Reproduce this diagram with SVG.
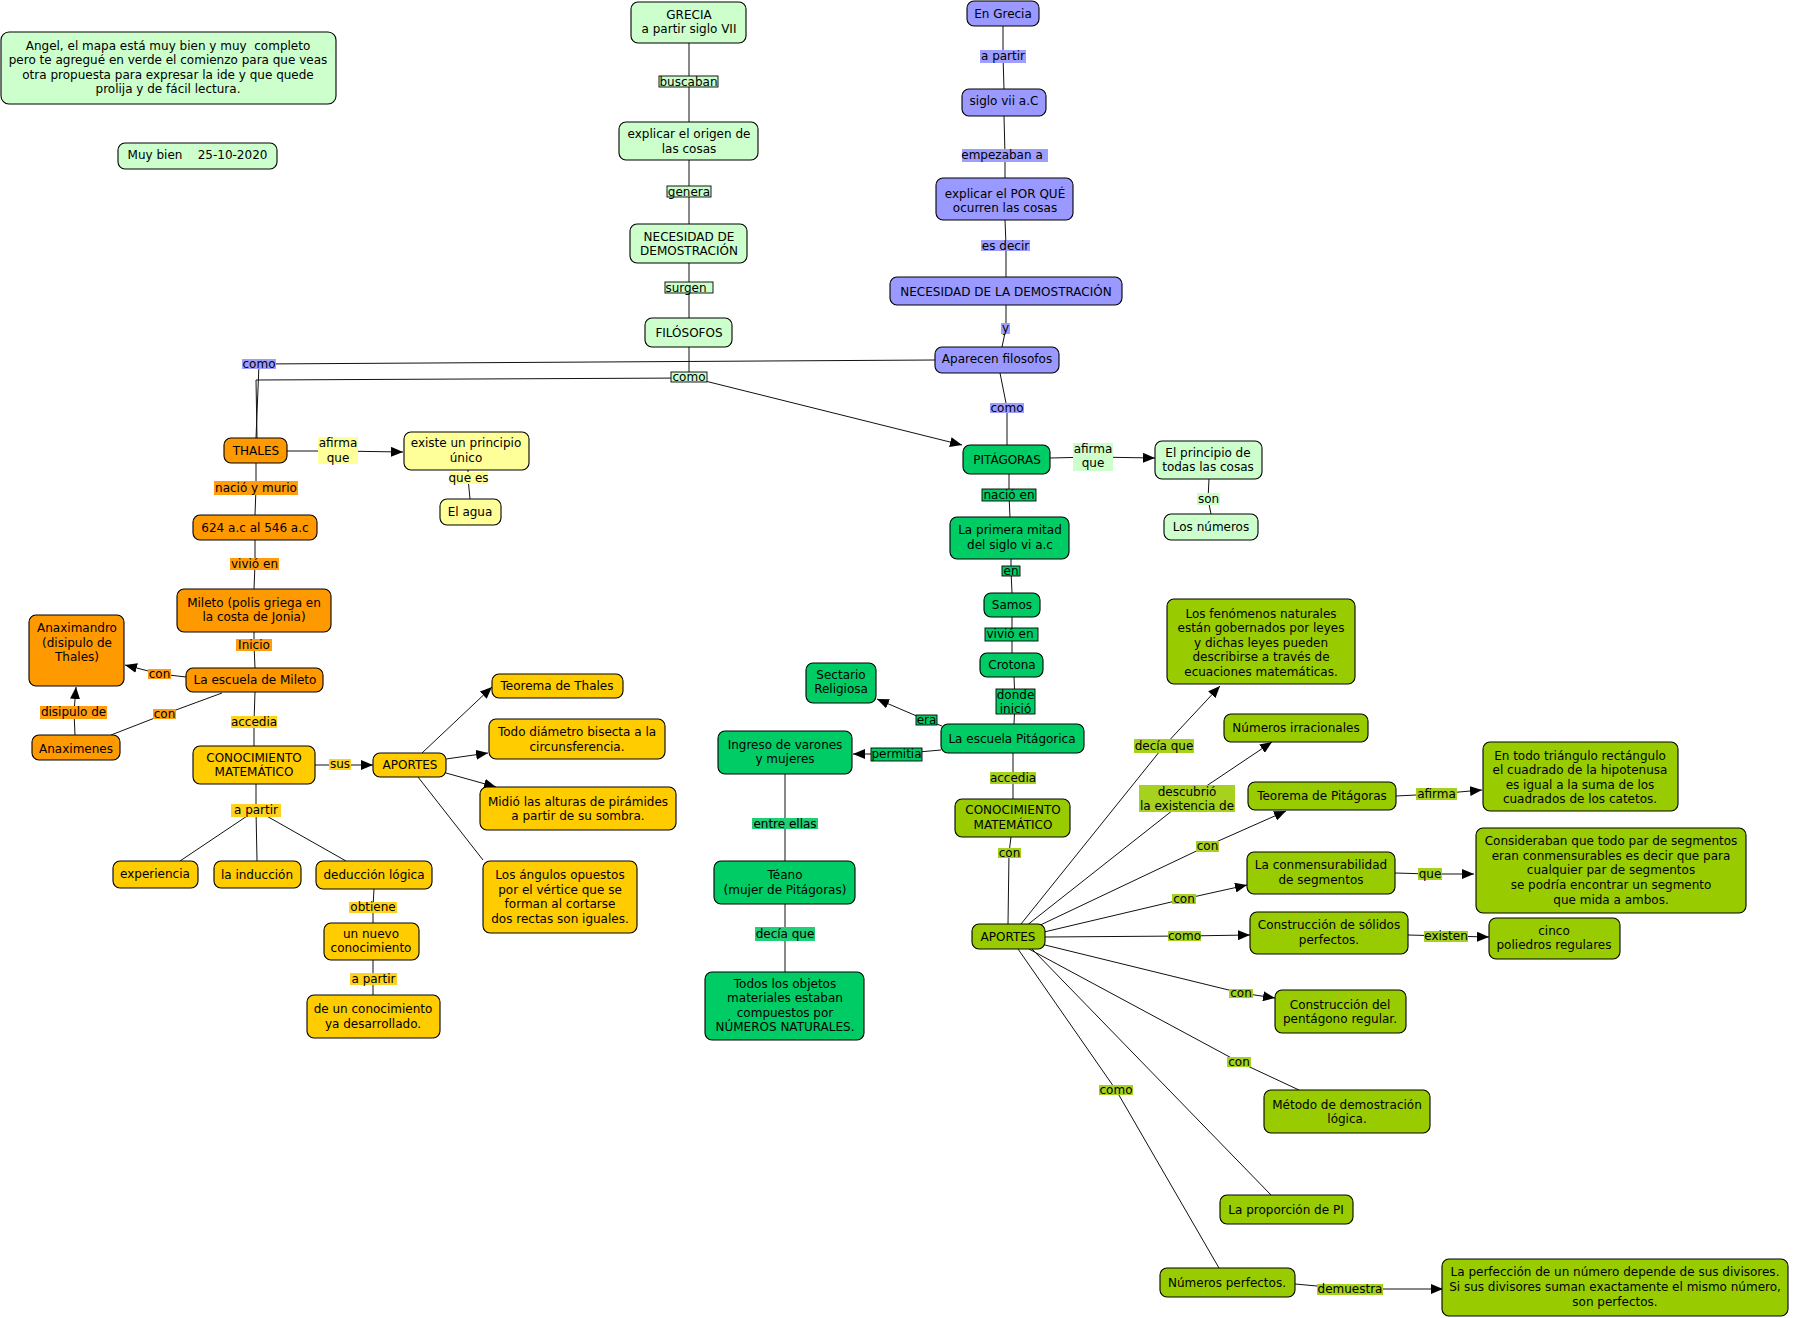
<svg xmlns="http://www.w3.org/2000/svg" width="1793" height="1318" viewBox="0 0 1793 1318">
<style>
text{font-family:"DejaVu Sans",Verdana,sans-serif;font-size:12px;fill:#000;text-anchor:middle}
.n{stroke:#000;stroke-width:1.1}
.lg{fill:#ccffcc}.pu{fill:#9999ff}.or{fill:#ff9900}.ye{fill:#ffff99}.go{fill:#ffcc00}.gr{fill:#00cc66}.yg{fill:#99cc00}
.c{fill:none;stroke:#111;stroke-width:1}
.a{marker-end:url(#ar)}
.lb{stroke:#000;stroke-width:0.9}
.llg{fill:#ccffcc}.lpu{fill:#9e9eff}.lye{fill:#ffff99}.lor{fill:#ff9d0f}.lgo{fill:#ffd21f}.lgr{fill:#00cc66}.lgr2{fill:#22cf77}.lyg{fill:#a6d21f}
</style>
<defs>
<marker id="ar" markerUnits="userSpaceOnUse" markerWidth="12" markerHeight="10" refX="12" refY="5" orient="auto">
<path d="M0,0 L12,5 L0,10 z" fill="#000"/>
</marker>
</defs>
<rect x="0" y="0" width="1793" height="1318" fill="#fff"/>
<g id="connectors">
<polyline class="c" points="689,43 689,81 689,122"/>
<polyline class="c" points="689,160 689,191 689,224"/>
<polyline class="c" points="689,263 689,287 689,318"/>
<polyline class="c" points="689,347 689,377"/>
<polyline class="c" points="689,378 256,380 257,438"/>
<polyline class="c a" points="689,377 962,445"/>
<polyline class="c" points="1003,26 1003,56 1004,89"/>
<polyline class="c" points="1004,116 1005,155 1005,178"/>
<polyline class="c" points="1005,220 1006,245 1006,277"/>
<polyline class="c" points="1006,305 1006,328 1002,347"/>
<polyline class="c" points="1000,373 1007,408 1007,445"/>
<polyline class="c" points="935,360 259,364 256,438"/>
<polyline class="c a" points="287,451 338,451 403,452"/>
<polyline class="c" points="468,470 468,478 470,499"/>
<polyline class="c" points="256,463 256,488 255,515"/>
<polyline class="c" points="255,540 255,564 254,589"/>
<polyline class="c" points="254,632 254,645 255,668"/>
<polyline class="c a" points="186,677 160,674 125,665"/>
<polyline class="c" points="222,693 165,714 111,735"/>
<polyline class="c a" points="75,735 74,712 76,687"/>
<polyline class="c" points="255,692 254,722 254,746"/>
<polyline class="c a" points="315,765 340,765 373,765"/>
<polyline class="c" points="256,784 256,810"/>
<polyline class="c" points="256,810 180,861"/>
<polyline class="c" points="256,810 257,861"/>
<polyline class="c" points="256,810 346,861"/>
<polyline class="c" points="374,889 373,907 373,923"/>
<polyline class="c" points="373,960 373,979 373,995"/>
<polyline class="c a" points="422,753 492,687"/>
<polyline class="c a" points="446,759 488,753"/>
<polyline class="c a" points="446,773 496,787"/>
<polyline class="c" points="418,777 483,860"/>
<polyline class="c a" points="1050,458 1093,457 1155,458"/>
<polyline class="c" points="1209,479 1208,499 1211,514"/>
<polyline class="c" points="1009,474 1009,495 1010,517"/>
<polyline class="c" points="1011,559 1011,571 1012,593"/>
<polyline class="c" points="1012,617 1012,634 1012,653"/>
<polyline class="c" points="1014,677 1015,701 1014,724"/>
<polyline class="c a" points="942,726 926,720 877,699"/>
<polyline class="c a" points="941,750 896,754 853,754"/>
<polyline class="c" points="1013,753 1013,778 1013,799"/>
<polyline class="c" points="1011,837 1009,853 1008,924"/>
<polyline class="c" points="785,774 785,823 785,861"/>
<polyline class="c" points="785,904 785,934 785,972"/>
<polyline class="c a" points="1021,924 1164,746 1220,686"/>
<polyline class="c a" points="1026,926 1187,799 1272,742"/>
<polyline class="c a" points="1034,928 1207,846 1286,811"/>
<polyline class="c a" points="1044,932 1184,899 1247,885"/>
<polyline class="c a" points="1045,937 1184,936 1250,935"/>
<polyline class="c a" points="1045,945 1241,993 1275,998"/>
<polyline class="c" points="1029,949 1239,1062 1299,1090"/>
<polyline class="c" points="1032,949 1271,1195"/>
<polyline class="c" points="1018,949 1116,1090 1219,1268"/>
<polyline class="c a" points="1396,796 1436,794 1482,790"/>
<polyline class="c a" points="1395,873 1430,874 1474,874"/>
<polyline class="c a" points="1408,935 1446,936 1489,937"/>
<polyline class="c a" points="1295,1284 1350,1289 1443,1289"/>
</g>
<g id="labels">
<g><rect class="llg lb" x="659" y="76" width="59" height="11"/><text x="688.5" y="86">buscaban</text></g>
<g><rect class="llg lb" x="667" y="186" width="44" height="11"/><text x="689" y="196">genera</text></g>
<g><rect class="llg lb" x="665" y="282" width="48" height="11"/><text x="686" y="292">surgen</text></g>
<g><rect class="llg lb" x="671" y="372" width="36" height="10"/><text x="689" y="381">como</text></g>
<g><rect class="lpu" x="980" y="50" width="46" height="13"/><text x="1003" y="60">a partir</text></g>
<g><rect class="lpu" x="962" y="149" width="86" height="13"/><text x="1002" y="159">empezaban a</text></g>
<g><rect class="lpu" x="981" y="240" width="49" height="11"/><text x="1005.5" y="250">es decir</text></g>
<g><rect class="lpu" x="1001" y="323" width="9" height="11"/><text x="1005.5" y="332">y</text></g>
<g><rect class="lpu" x="990" y="403" width="34" height="10"/><text x="1007" y="412">como</text></g>
<g><rect class="lpu" x="242" y="359" width="34" height="10"/><text x="259" y="368">como</text></g>
<g><rect class="lye" x="318" y="437" width="40" height="27"/><text x="338" y="447">afirma</text><text x="338" y="462">que</text></g>
<g><rect class="lye" x="449" y="472" width="39" height="12"/><text x="468.5" y="482">que es</text></g>
<g><rect class="lor" x="214" y="481" width="84" height="14"/><text x="256" y="492">nació y murio</text></g>
<g><rect class="lor" x="230" y="558" width="49" height="12"/><text x="254.5" y="568">vivió en</text></g>
<g><rect class="lor" x="236" y="639" width="36" height="12"/><text x="254" y="649">Inicio</text></g>
<g><rect class="lor" x="148" y="669" width="23" height="10"/><text x="159.5" y="678">con</text></g>
<g><rect class="lor" x="40" y="706" width="67" height="13"/><text x="73.5" y="716">disipulo de</text></g>
<g><rect class="lor" x="153" y="709" width="23" height="10"/><text x="164.5" y="718">con</text></g>
<g><rect class="lgo" x="231" y="716" width="46" height="12"/><text x="254" y="726">accedia</text></g>
<g><rect class="lgo" x="329" y="759" width="22" height="11"/><text x="340" y="768">sus</text></g>
<g><rect class="lgo" x="231" y="804" width="50" height="13"/><text x="256" y="814">a partir</text></g>
<g><rect class="lgo" x="349" y="902" width="48" height="11"/><text x="373" y="911">obtiene</text></g>
<g><rect class="lgo" x="350" y="973" width="47" height="12"/><text x="373.5" y="983">a partir</text></g>
<g><rect class="llg" x="1073" y="443" width="40" height="28"/><text x="1093" y="453">afirma</text><text x="1093" y="467">que</text></g>
<g><rect class="llg" x="1197" y="493" width="23" height="12"/><text x="1208.5" y="503">son</text></g>
<g><rect class="lgr lb" x="982" y="489" width="54" height="12"/><text x="1009" y="499">nació en</text></g>
<g><rect class="lgr lb" x="1002" y="566" width="18" height="10"/><text x="1011" y="575">en</text></g>
<g><rect class="lgr lb" x="985" y="628" width="53" height="13"/><text x="1010" y="638">vivió en</text></g>
<g><rect class="lgr lb" x="996" y="689" width="39" height="25"/><text x="1015.5" y="699">donde</text><text x="1015.5" y="713">inició</text></g>
<g><rect class="lgr lb" x="916" y="715" width="21" height="10"/><text x="926.5" y="724">era</text></g>
<g><rect class="lgr lb" x="871" y="748" width="51" height="13"/><text x="896.5" y="758">permitia</text></g>
<g><rect class="lgr2" x="752" y="818" width="66" height="11"/><text x="785" y="828">entre ellas</text></g>
<g><rect class="lgr2" x="755" y="927" width="60" height="14"/><text x="785" y="938">decía que</text></g>
<g><rect class="lyg" x="990" y="772" width="46" height="12"/><text x="1013" y="782">accedia</text></g>
<g><rect class="lyg" x="998" y="848" width="23" height="10"/><text x="1009.5" y="857">con</text></g>
<g><rect class="lyg" x="1134" y="739" width="60" height="14"/><text x="1164" y="750">decía que</text></g>
<g><rect class="lyg" x="1139" y="785" width="96" height="27"/><text x="1187" y="796">descubrió</text><text x="1187" y="810">la existencia de</text></g>
<g><rect class="lyg" x="1196" y="841" width="23" height="11"/><text x="1207.5" y="850">con</text></g>
<g><rect class="lyg" x="1172" y="894" width="24" height="10"/><text x="1184" y="903">con</text></g>
<g><rect class="lyg" x="1168" y="931" width="33" height="10"/><text x="1184.5" y="940">como</text></g>
<g><rect class="lyg" x="1229" y="989" width="24" height="9"/><text x="1241" y="997">con</text></g>
<g><rect class="lyg" x="1227" y="1057" width="24" height="10"/><text x="1239" y="1066">con</text></g>
<g><rect class="lyg" x="1099" y="1085" width="34" height="10"/><text x="1116" y="1094">como</text></g>
<g><rect class="lyg" x="1416" y="788" width="41" height="12"/><text x="1436.5" y="798">afirma</text></g>
<g><rect class="lyg" x="1418" y="868" width="24" height="12"/><text x="1430" y="878">que</text></g>
<g><rect class="lyg" x="1424" y="931" width="44" height="11"/><text x="1446" y="940">existen</text></g>
<g><rect class="lyg" x="1317" y="1284" width="66" height="11"/><text x="1350" y="1293">demuestra</text></g>
</g>
<g id="n-angel"><rect class="n lg" x="1" y="32" width="335" height="72" rx="8"/><text x="168" y="50" xml:space="preserve">Angel, el mapa está muy bien y muy  completo</text><text x="168" y="64">pero te agregué en verde el comienzo para que veas</text><text x="168" y="79">otra propuesta para expresar la ide y que quede</text><text x="168" y="93">prolija y de fácil lectura.</text></g>
<g id="n-muybien"><rect class="n lg" x="118" y="143" width="159" height="26" rx="7"/><text x="197.5" y="159" xml:space="preserve">Muy bien    25-10-2020</text></g>
<g id="n-grecia"><rect class="n lg" x="631" y="2" width="115" height="41" rx="7"/><text x="689" y="19">GRECIA</text><text x="689" y="33">a partir siglo VII</text></g>
<g id="n-explicar-origen"><rect class="n lg" x="619" y="122" width="139" height="38" rx="7"/><text x="689" y="138">explicar el origen de</text><text x="689" y="153">las cosas</text></g>
<g id="n-necesidad"><rect class="n lg" x="630" y="224" width="117" height="39" rx="7"/><text x="689" y="241">NECESIDAD DE</text><text x="689" y="255">DEMOSTRACIÓN</text></g>
<g id="n-filosofos"><rect class="n lg" x="645" y="318" width="87" height="29" rx="7"/><text x="689" y="337">FILÓSOFOS</text></g>
<g id="n-engrecia"><rect class="n pu" x="967" y="1" width="72" height="25" rx="7"/><text x="1003" y="18">En Grecia</text></g>
<g id="n-siglovii"><rect class="n pu" x="962" y="89" width="84" height="27" rx="7"/><text x="1004" y="105">siglo vii a.C</text></g>
<g id="n-porque"><rect class="n pu" x="936" y="178" width="137" height="42" rx="7"/><text x="1005" y="198">explicar el POR QUÉ</text><text x="1005" y="212">ocurren las cosas</text></g>
<g id="n-necesidad-la"><rect class="n pu" x="890" y="277" width="232" height="28" rx="7"/><text x="1006" y="296">NECESIDAD DE LA DEMOSTRACIÓN</text></g>
<g id="n-aparecen"><rect class="n pu" x="935" y="347" width="124" height="26" rx="7"/><text x="997" y="363">Aparecen filosofos</text></g>
<g id="n-pitagoras"><rect class="n gr" x="963" y="445" width="87" height="29" rx="7"/><text x="1007" y="464">PITÁGORAS</text></g>
<g id="n-principio"><rect class="n lg" x="1155" y="441" width="107" height="38" rx="7"/><text x="1208" y="457">El principio de</text><text x="1208" y="471">todas las cosas</text></g>
<g id="n-numeros"><rect class="n lg" x="1164" y="514" width="94" height="26" rx="7"/><text x="1211" y="531">Los números</text></g>
<g id="n-primera"><rect class="n gr" x="950" y="517" width="119" height="42" rx="7"/><text x="1010" y="534">La primera mitad</text><text x="1010" y="549">del siglo vi a.c</text></g>
<g id="n-samos"><rect class="n gr" x="984" y="593" width="56" height="24" rx="7"/><text x="1012" y="609">Samos</text></g>
<g id="n-crotona"><rect class="n gr" x="980" y="653" width="63" height="24" rx="7"/><text x="1012" y="669">Crotona</text></g>
<g id="n-escuela-pit"><rect class="n gr" x="941" y="724" width="143" height="29" rx="7"/><text x="1012" y="743">La escuela Pitágorica</text></g>
<g id="n-conoc-pit"><rect class="n yg" x="955" y="799" width="115" height="38" rx="7"/><text x="1013" y="814">CONOCIMIENTO</text><text x="1013" y="829">MATEMÁTICO</text></g>
<g id="n-aportes-pit"><rect class="n yg" x="972" y="924" width="73" height="25" rx="7"/><text x="1008" y="941">APORTES</text></g>
<g id="n-sectario"><rect class="n gr" x="806" y="663" width="70" height="40" rx="7"/><text x="841" y="679">Sectario</text><text x="841" y="693">Religiosa</text></g>
<g id="n-ingreso"><rect class="n gr" x="718" y="731" width="134" height="43" rx="7"/><text x="785" y="749">Ingreso de varones</text><text x="785" y="763">y mujeres</text></g>
<g id="n-teano"><rect class="n gr" x="714" y="861" width="141" height="43" rx="7"/><text x="785" y="879">Téano</text><text x="785" y="894">(mujer de Pitágoras)</text></g>
<g id="n-todos"><rect class="n gr" x="705" y="972" width="159" height="68" rx="7"/><text x="785" y="988">Todos los objetos</text><text x="785" y="1002">materiales estaban</text><text x="785" y="1017">compuestos por</text><text x="785" y="1031">NÚMEROS NATURALES.</text></g>
<g id="n-thales"><rect class="n or" x="224" y="438" width="63" height="25" rx="7"/><text x="256" y="455">THALES</text></g>
<g id="n-existe"><rect class="n ye" x="404" y="432" width="125" height="38" rx="7"/><text x="466" y="447">existe un principio</text><text x="466" y="462">único</text></g>
<g id="n-agua"><rect class="n ye" x="440" y="499" width="61" height="26" rx="7"/><text x="470" y="516">El agua</text></g>
<g id="n-624"><rect class="n or" x="193" y="515" width="124" height="25" rx="7"/><text x="255" y="532">624 a.c al 546 a.c</text></g>
<g id="n-mileto"><rect class="n or" x="177" y="589" width="154" height="43" rx="7"/><text x="254" y="607">Mileto (polis griega en</text><text x="254" y="621">la costa de Jonia)</text></g>
<g id="n-escuela-mileto"><rect class="n or" x="186" y="668" width="137" height="24" rx="7"/><text x="255" y="684">La escuela de Mileto</text></g>
<g id="n-anaximandro"><rect class="n or" x="29" y="615" width="95" height="71" rx="7"/><text x="77" y="632">Anaximandro</text><text x="77" y="647">(disipulo de</text><text x="77" y="661">Thales)</text></g>
<g id="n-anaximenes"><rect class="n or" x="32" y="735" width="88" height="25" rx="7"/><text x="76" y="753">Anaximenes</text></g>
<g id="n-conoc-thales"><rect class="n go" x="193" y="746" width="122" height="38" rx="7"/><text x="254" y="762">CONOCIMIENTO</text><text x="254" y="776">MATEMÁTICO</text></g>
<g id="n-aportes-thales"><rect class="n go" x="373" y="753" width="73" height="24" rx="7"/><text x="410" y="769">APORTES</text></g>
<g id="n-experiencia"><rect class="n go" x="113" y="861" width="85" height="27" rx="7"/><text x="155" y="878">experiencia</text></g>
<g id="n-induccion"><rect class="n go" x="214" y="861" width="87" height="27" rx="7"/><text x="257" y="879">la inducción</text></g>
<g id="n-deduccion"><rect class="n go" x="316" y="861" width="116" height="28" rx="7"/><text x="374" y="879">deducción lógica</text></g>
<g id="n-nuevo"><rect class="n go" x="324" y="923" width="95" height="37" rx="7"/><text x="371" y="938">un nuevo</text><text x="371" y="952">conocimiento</text></g>
<g id="n-desarrollado"><rect class="n go" x="307" y="995" width="133" height="43" rx="7"/><text x="373" y="1013">de un conocimiento</text><text x="373" y="1028">ya desarrollado.</text></g>
<g id="n-teorema-thales"><rect class="n go" x="492" y="674" width="131" height="24" rx="7"/><text x="557" y="690">Teorema de Thales</text></g>
<g id="n-diametro"><rect class="n go" x="489" y="719" width="176" height="40" rx="7"/><text x="577" y="736">Todo diámetro bisecta a la</text><text x="577" y="751">circunsferencia.</text></g>
<g id="n-midio"><rect class="n go" x="480" y="787" width="196" height="43" rx="7"/><text x="578" y="806">Midió las alturas de pirámides</text><text x="578" y="820">a partir de su sombra.</text></g>
<g id="n-angulos"><rect class="n go" x="483" y="861" width="154" height="72" rx="7"/><text x="560" y="879">Los ángulos opuestos</text><text x="560" y="894">por el vértice que se</text><text x="560" y="908">forman al cortarse</text><text x="560" y="923">dos rectas son iguales.</text></g>
<g id="n-fenomenos"><rect class="n yg" x="1167" y="599" width="188" height="85" rx="7"/><text x="1261" y="618">Los fenómenos naturales</text><text x="1261" y="632">están gobernados por leyes</text><text x="1261" y="647">y dichas leyes pueden</text><text x="1261" y="661">describirse a través de</text><text x="1261" y="676">ecuaciones matemáticas.</text></g>
<g id="n-irracionales"><rect class="n yg" x="1224" y="714" width="144" height="28" rx="7"/><text x="1296" y="732">Números irracionales</text></g>
<g id="n-teorema-pit"><rect class="n yg" x="1248" y="782" width="148" height="28" rx="7"/><text x="1322" y="800">Teorema de Pitágoras</text></g>
<g id="n-entodo"><rect class="n yg" x="1483" y="742" width="195" height="69" rx="7"/><text x="1580" y="760">En todo triángulo rectángulo</text><text x="1580" y="774">el cuadrado de la hipotenusa</text><text x="1580" y="789">es igual a la suma de los</text><text x="1580" y="803">cuadrados de los catetos.</text></g>
<g id="n-conmens"><rect class="n yg" x="1247" y="852" width="148" height="42" rx="7"/><text x="1321" y="869">La conmensurabilidad</text><text x="1321" y="884">de segmentos</text></g>
<g id="n-consideraban"><rect class="n yg" x="1476" y="828" width="270" height="85" rx="7"/><text x="1611" y="845">Consideraban que todo par de segmentos</text><text x="1611" y="860">eran conmensurables es decir que para</text><text x="1611" y="874">cualquier par de segmentos</text><text x="1611" y="889">se podría encontrar un segmento</text><text x="1611" y="904">que mida a ambos.</text></g>
<g id="n-solidos"><rect class="n yg" x="1250" y="912" width="158" height="42" rx="7"/><text x="1329" y="929">Construcción de sólidos</text><text x="1329" y="944">perfectos.</text></g>
<g id="n-cinco"><rect class="n yg" x="1489" y="918" width="131" height="41" rx="7"/><text x="1554" y="935">cinco</text><text x="1554" y="949">poliedros regulares</text></g>
<g id="n-pentagono"><rect class="n yg" x="1275" y="990" width="131" height="43" rx="7"/><text x="1340" y="1009">Construcción del</text><text x="1340" y="1023">pentágono regular.</text></g>
<g id="n-metodo"><rect class="n yg" x="1264" y="1090" width="166" height="43" rx="7"/><text x="1347" y="1109">Método de demostración</text><text x="1347" y="1123">lógica.</text></g>
<g id="n-pi"><rect class="n yg" x="1220" y="1195" width="133" height="29" rx="7"/><text x="1286" y="1214">La proporción de PI</text></g>
<g id="n-perfectos"><rect class="n yg" x="1160" y="1268" width="135" height="29" rx="7"/><text x="1227" y="1287">Números perfectos.</text></g>
<g id="n-perfeccion"><rect class="n yg" x="1442" y="1259" width="346" height="57" rx="7"/><text x="1615" y="1276">La perfección de un número depende de sus divisores.</text><text x="1615" y="1291">Si sus divisores suman exactamente el mismo número,</text><text x="1615" y="1306">son perfectos.</text></g>
</svg>
